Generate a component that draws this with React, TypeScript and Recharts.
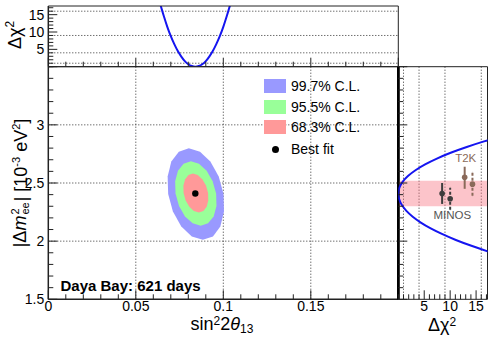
import React from "react";
import {
  ComposedChart,
  Scatter,
  Line,
  XAxis,
  YAxis,
  CartesianGrid,
  ReferenceArea,
  ErrorBar,
} from "recharts";

// Axis ticks
const s2tTicks = [0, 0.01, 0.02, 0.03, 0.04, 0.05, 0.06, 0.07, 0.08, 0.09, 0.1, 0.11, 0.12, 0.13, 0.14, 0.15, 0.16, 0.17, 0.18, 0.19, 0.2];
const s2tMajor = [0, 0.05, 0.1, 0.15, 0.2];
const s2tLabels = [0, 0.05, 0.1, 0.15];
const s2tGrid = [0.05, 0.1, 0.15];

const dmTicks = [1.5, 1.6, 1.7, 1.8, 1.9, 2, 2.1, 2.2, 2.3, 2.4, 2.5, 2.6, 2.7, 2.8, 2.9, 3, 3.1, 3.2, 3.3, 3.4, 3.5];
const dmMajor = [1.5, 2, 2.5, 3, 3.5];
const dmLabels = [1.5, 2, 2.5, 3];
const dmGrid = [2, 2.5, 3];

const chiTicks = [0, 1, 2, 3, 4, 5, 6, 7, 8, 9, 10, 11, 12, 13, 14, 15, 16, 17];
const chiMajor = [5, 10, 15];
const chiLabels = [5, 10, 15];
const chiGrid = [1, 4, 9, 16];

// Confidence regions (boundary points, sin^2 2theta13 vs |dm2_ee|)
const cl997 = [
  { s: 0.1001, dm: 2.405 }, { s: 0.0974, dm: 2.556 }, { s: 0.0926, dm: 2.684 }, { s: 0.0867, dm: 2.769 },
  { s: 0.0803, dm: 2.799 }, { s: 0.0746, dm: 2.769 }, { s: 0.0703, dm: 2.684 }, { s: 0.0682, dm: 2.556 },
  { s: 0.0685, dm: 2.405 }, { s: 0.0712, dm: 2.254 }, { s: 0.076, dm: 2.126 }, { s: 0.082, dm: 2.041 },
  { s: 0.0883, dm: 2.011 }, { s: 0.0941, dm: 2.041 }, { s: 0.0983, dm: 2.126 }, { s: 0.1004, dm: 2.254 },
];
const cl955 = [
  { s: 0.0959, dm: 2.409 }, { s: 0.0939, dm: 2.515 }, { s: 0.0905, dm: 2.605 }, { s: 0.0861, dm: 2.665 },
  { s: 0.0815, dm: 2.686 }, { s: 0.0773, dm: 2.665 }, { s: 0.0741, dm: 2.605 }, { s: 0.0725, dm: 2.515 },
  { s: 0.0727, dm: 2.409 }, { s: 0.0747, dm: 2.303 }, { s: 0.0781, dm: 2.213 }, { s: 0.0825, dm: 2.153 },
  { s: 0.0871, dm: 2.132 }, { s: 0.0913, dm: 2.153 }, { s: 0.0945, dm: 2.213 }, { s: 0.0961, dm: 2.303 },
];
const cl683 = [
  { s: 0.0913, dm: 2.414 }, { s: 0.0901, dm: 2.478 }, { s: 0.088, dm: 2.533 }, { s: 0.0854, dm: 2.569 },
  { s: 0.0826, dm: 2.582 }, { s: 0.0801, dm: 2.569 }, { s: 0.0782, dm: 2.533 }, { s: 0.0772, dm: 2.478 },
  { s: 0.0773, dm: 2.414 }, { s: 0.0785, dm: 2.35 }, { s: 0.0806, dm: 2.295 }, { s: 0.0832, dm: 2.259 },
  { s: 0.086, dm: 2.246 }, { s: 0.0886, dm: 2.259 }, { s: 0.0905, dm: 2.295 }, { s: 0.0914, dm: 2.35 },
];
const bestFit = [{ s: 0.084, dm: 2.41 }];

// Delta chi2 profile vs sin^2 2theta13 (top panel)
const topCurve = [
  { s: 0.064, chi: 18.0 }, { s: 0.066, chi: 14.6 }, { s: 0.068, chi: 11.5 }, { s: 0.07, chi: 8.8 },
  { s: 0.072, chi: 6.5 }, { s: 0.074, chi: 4.5 }, { s: 0.076, chi: 2.9 }, { s: 0.078, chi: 1.6 },
  { s: 0.08, chi: 0.7 }, { s: 0.082, chi: 0.2 }, { s: 0.084, chi: 0 }, { s: 0.086, chi: 0.2 },
  { s: 0.088, chi: 0.7 }, { s: 0.09, chi: 1.6 }, { s: 0.092, chi: 2.9 }, { s: 0.094, chi: 4.5 },
  { s: 0.096, chi: 6.5 }, { s: 0.098, chi: 8.8 }, { s: 0.1, chi: 11.5 }, { s: 0.102, chi: 14.6 },
  { s: 0.104, chi: 18.0 },
];

// Delta chi2 profile vs |dm2_ee| (right panel)
const rightCurve = [
  { dm: 1.89, chi: 18.8 }, { dm: 1.91, chi: 17.4 }, { dm: 1.96, chi: 14.1 }, { dm: 2.01, chi: 11.1 },
  { dm: 2.06, chi: 8.51 }, { dm: 2.11, chi: 6.25 }, { dm: 2.16, chi: 4.34 }, { dm: 2.21, chi: 2.78 },
  { dm: 2.26, chi: 1.56 }, { dm: 2.31, chi: 0.69 }, { dm: 2.36, chi: 0.17 }, { dm: 2.41, chi: 0 },
  { dm: 2.46, chi: 0.21 }, { dm: 2.51, chi: 0.83 }, { dm: 2.56, chi: 1.86 }, { dm: 2.61, chi: 3.31 },
  { dm: 2.66, chi: 5.17 }, { dm: 2.71, chi: 7.44 }, { dm: 2.76, chi: 10.1 }, { dm: 2.81, chi: 13.2 },
  { dm: 2.86, chi: 16.7 }, { dm: 2.88, chi: 18.3 },
];
const oneSigmaBand = [2.3, 2.52];

// other experiments (err = [lower, upper])
const minosSolid = [{ chi: 8.45, dm: 2.41, err: [0.09, 0.09] }];
const minosDashed = [{ chi: 10.0, dm: 2.365, err: [0.095, 0.095] }];
const t2kSolid = [{ chi: 12.8, dm: 2.55, err: [0.1, 0.09] }];
const t2kDashed = [{ chi: 14.3, dm: 2.49, err: [0.1, 0.1] }];

const legendRows = [
  { label: "99.7% C.L.", color: "#9999ff" },
  { label: "95.5% C.L.", color: "#99ff99" },
  { label: "68.3% C.L.", color: "#ff9999" },
];

const FONT = '"Liberation Sans", Arial, Helvetica, sans-serif';
const AXIS = "#222";
const CURVE = "#1515f0";
const MINOS = "#3d3d3d";
const T2K = "#8a6a5a";

type Side = "bottom" | "top" | "left" | "right";
const near = (list: number[], v: number) => list.some((m) => Math.abs(m - v) < 1e-6);

// ROOT-style ticks: drawn inward from the frame, labels outside
function makeTick(side: Side, major: number[], labels: number[], big: number, small: number) {
  return (props: any) => {
    const { x, y, payload } = props;
    const v = payload.value as number;
    const len = near(major, v) ? big : small;
    const seg =
      side === "bottom" ? [x, y, x, y - len]
      : side === "top" ? [x, y, x, y + len]
      : side === "left" ? [x, y, x + len, y]
      : [x, y, x - len, y];
    const show = near(labels, v);
    return (
      <g>
        <line x1={seg[0]} y1={seg[1]} x2={seg[2]} y2={seg[3]} stroke={AXIS} strokeWidth={1} />
        {show && side === "bottom" && (
          <text x={x} y={y + 12} textAnchor="middle" fontFamily={FONT} fontSize={14} fill="#000">
            {String(v)}
          </text>
        )}
        {show && side === "left" && (
          <text x={x - 4} y={y + 5} textAnchor="end" fontFamily={FONT} fontSize={14} fill="#000">
            {String(v)}
          </text>
        )}
      </g>
    );
  };
}

const hidden = () => <g />;
const dot = (color: string, r: number) => (p: any) => <circle cx={p.cx} cy={p.cy} r={r} fill={color} />;

const abs: React.CSSProperties = { position: "absolute", left: 0, top: 0 };
const W = 498;
const H = 338;

export default function App() {
  return (
    <div style={{ position: "absolute", left: 0, top: 0, width: W, height: H, fontFamily: FONT, background: "#fff" }}>
      {/* main panel: plot area 48.3..398.3 x 66.7..299.3 (axes take 1px each) */}
      <div style={abs}>
        <ComposedChart width={W} height={H} margin={{ top: 65.7, left: 47.3, right: 98.7, bottom: 37.7 }}>
          <CartesianGrid stroke="#333" strokeDasharray="1 2" horizontalValues={dmGrid} verticalValues={s2tGrid} />
          <XAxis dataKey="s" type="number" domain={[0, 0.2]} ticks={s2tTicks} interval={0} height={1}
            tickSize={0} tickMargin={0} axisLine={{ stroke: AXIS, strokeWidth: 1.5 }} tick={makeTick("bottom", s2tMajor, s2tLabels, 9, 5)} />
          <XAxis xAxisId="top" orientation="top" type="number" domain={[0, 0.2]} ticks={s2tTicks} interval={0} height={1}
            tickSize={0} tickMargin={0} axisLine={{ stroke: AXIS }} tick={makeTick("top", s2tMajor, [], 9, 5)} />
          <YAxis dataKey="dm" type="number" domain={[1.5, 3.5]} ticks={dmTicks} interval={0} width={1}
            tickSize={0} tickMargin={0} axisLine={{ stroke: AXIS, strokeWidth: 1.5 }} tick={makeTick("left", dmMajor, dmLabels, 9, 5)} />
          <YAxis yAxisId="right" orientation="right" type="number" domain={[1.5, 3.5]} ticks={dmTicks} interval={0} width={1}
            tickSize={0} tickMargin={0} axisLine={{ stroke: "#000", strokeWidth: 2.5 }} tick={makeTick("right", dmMajor, [], 9, 5)} />
          <Scatter data={cl997} fill="none" line={{ fill: legendRows[0].color, stroke: "none" }} lineType="joint"
            lineJointType="linearClosed" shape={hidden} legendType="none" isAnimationActive={false} />
          <Scatter data={cl955} fill="none" line={{ fill: legendRows[1].color, stroke: "none" }} lineType="joint"
            lineJointType="linearClosed" shape={hidden} legendType="none" isAnimationActive={false} />
          <Scatter data={cl683} fill="none" line={{ fill: legendRows[2].color, stroke: "none" }} lineType="joint"
            lineJointType="linearClosed" shape={hidden} legendType="none" isAnimationActive={false} />
          <Scatter data={bestFit} fill="#000" shape={dot("#000", 3.2)} legendType="none" isAnimationActive={false} />
        </ComposedChart>
      </div>

      {/* top panel: plot area 48.3..398.3 x 6..66.7 */}
      <div style={abs}>
        <ComposedChart width={W} height={H} data={topCurve} margin={{ top: 5, left: 47.3, right: 98.7, bottom: 270.3 }}>
          <CartesianGrid stroke="#333" strokeDasharray="1 2" horizontalValues={chiGrid} vertical={false} />
          <XAxis dataKey="s" type="number" domain={[0, 0.2]} ticks={s2tTicks} interval={0} height={1}
            tickSize={0} tickMargin={0} axisLine={{ stroke: AXIS }} tick={makeTick("bottom", s2tMajor, [], 9, 5)} />
          <XAxis xAxisId="top" orientation="top" type="number" domain={[0, 0.2]} height={1}
            axisLine={{ stroke: AXIS }} tick={false} tickLine={false} />
          <YAxis type="number" domain={[0, 17.5]} allowDataOverflow ticks={chiTicks} interval={0} width={1}
            tickSize={0} tickMargin={0} axisLine={{ stroke: AXIS, strokeWidth: 1.5 }} tick={makeTick("left", chiMajor, chiLabels, 9, 5)} />
          <YAxis yAxisId="right" orientation="right" type="number" domain={[0, 17.5]} ticks={chiTicks} interval={0} width={1}
            tickSize={0} tickMargin={0} axisLine={{ stroke: AXIS }} tick={makeTick("right", chiMajor, [], 9, 5)} />
          <Line dataKey="chi" type="monotone" stroke={CURVE} strokeWidth={2} dot={false} isAnimationActive={false} />
        </ComposedChart>
      </div>

      {/* right panel: plot area 398.3..487.5 x 66.7..299.3 */}
      <div style={abs}>
        <ComposedChart width={W} height={H} margin={{ top: 65.7, left: 397.3, right: 9.5, bottom: 37.7 }}>
          <CartesianGrid stroke="#333" strokeDasharray="1 2" verticalValues={chiGrid} horizontal={false} />
          <ReferenceArea y1={oneSigmaBand[0]} y2={oneSigmaBand[1]} fill="#f76b7a" fillOpacity={0.4} stroke="none" />
          <XAxis dataKey="chi" type="number" domain={[0, 17.2]} allowDataOverflow ticks={chiTicks} interval={0} height={1}
            tickSize={0} tickMargin={0} axisLine={{ stroke: AXIS }} tick={makeTick("bottom", chiMajor, chiLabels, 9, 5)} />
          <XAxis xAxisId="top" orientation="top" type="number" domain={[0, 17.2]} height={1}
            axisLine={{ stroke: AXIS }} tick={false} tickLine={false} />
          <YAxis dataKey="dm" type="number" domain={[1.5, 3.5]} ticks={dmTicks} interval={0} width={1}
            tickSize={0} tickMargin={0} axisLine={{ stroke: "#000", strokeWidth: 2.5 }} tick={makeTick("left", dmMajor, [], 9, 5)} />
          <YAxis yAxisId="right" orientation="right" type="number" domain={[1.5, 3.5]} width={1}
            axisLine={{ stroke: AXIS }} tick={false} tickLine={false} />
          <Scatter data={rightCurve} fill="none" line={{ stroke: CURVE, strokeWidth: 2 }} lineType="joint"
            lineJointType="natural" shape={hidden} legendType="none" isAnimationActive={false} />
          <Scatter data={minosSolid} fill={MINOS} shape={dot(MINOS, 2.8)} legendType="none" isAnimationActive={false}>
            <ErrorBar dataKey="err" direction="y" width={0} stroke={MINOS} strokeWidth={2} />
          </Scatter>
          <Scatter data={minosDashed} fill={MINOS} shape={dot(MINOS, 2.8)} legendType="none" isAnimationActive={false}>
            <ErrorBar dataKey="err" direction="y" width={0} stroke={MINOS} strokeWidth={2} strokeDasharray="3 2" />
          </Scatter>
          <Scatter data={t2kSolid} fill={T2K} shape={dot(T2K, 2.8)} legendType="none" isAnimationActive={false}>
            <ErrorBar dataKey="err" direction="y" width={0} stroke={T2K} strokeWidth={2} />
          </Scatter>
          <Scatter data={t2kDashed} fill={T2K} shape={dot(T2K, 2.8)} legendType="none" isAnimationActive={false}>
            <ErrorBar dataKey="err" direction="y" width={0} stroke={T2K} strokeWidth={2} strokeDasharray="3 2" />
          </Scatter>
        </ComposedChart>
      </div>

      {/* legend */}
      {legendRows.map((r, i) => (
        <div key={r.label} style={{ position: "absolute", left: 264, top: 79.3 + i * 20.4, height: 14, display: "flex", alignItems: "center" }}>
          <div style={{ width: 22, height: 14, background: r.color }} />
          <span style={{ marginLeft: 5, fontSize: 14, lineHeight: "14px", whiteSpace: "nowrap" }}>{r.label}</span>
        </div>
      ))}
      <div style={{ position: "absolute", left: 264, top: 142.3, height: 14, display: "flex", alignItems: "center" }}>
        <div style={{ width: 22, height: 14, display: "flex", alignItems: "center", justifyContent: "center" }}>
          <div style={{ width: 7, height: 7, borderRadius: "50%", background: "#000" }} />
        </div>
        <span style={{ marginLeft: 5, fontSize: 14, lineHeight: "14px" }}>Best fit</span>
      </div>

      {/* annotations */}
      <div style={{ position: "absolute", left: 60.5, top: 277, fontSize: 15, fontWeight: "bold", lineHeight: "18px", whiteSpace: "nowrap" }}>
        Daya Bay: 621 days
      </div>
      <div style={{ position: "absolute", left: 465.7, top: 159, transform: "translate(-50%,-50%)", fontSize: 11.5, color: T2K, lineHeight: 1 }}>
        T2K
      </div>
      <div style={{ position: "absolute", left: 452.3, top: 216, transform: "translate(-50%,-50%)", fontSize: 11.5, color: "#555", lineHeight: 1 }}>
        MINOS
      </div>

      {/* axis titles */}
      <div style={{ position: "absolute", left: 222, top: 324, transform: "translate(-50%,-50%)", fontSize: 18, whiteSpace: "nowrap", lineHeight: 1 }}>
        sin<sup style={{ fontSize: 12, verticalAlign: "0.4em", lineHeight: 0 }}>2</sup>2<i>θ</i>
        <sub style={{ fontSize: 12, verticalAlign: "-0.25em", lineHeight: 0 }}>13</sub>
      </div>
      <div style={{ position: "absolute", left: 442, top: 325, transform: "translate(-50%,-50%)", fontSize: 18, whiteSpace: "nowrap", lineHeight: 1 }}>
        Δχ<sup style={{ fontSize: 12, verticalAlign: "0.4em", lineHeight: 0 }}>2</sup>
      </div>
      <div style={{ position: "absolute", left: 14, top: 35, transform: "translate(-50%,-50%) rotate(-90deg)", fontSize: 18, whiteSpace: "nowrap", lineHeight: 1 }}>
        Δχ<sup style={{ fontSize: 12 }}>2</sup>
      </div>
      <div style={{ position: "absolute", left: 20, top: 183, transform: "translate(-50%,-50%) rotate(-90deg)", fontSize: 18, whiteSpace: "nowrap", lineHeight: 1, display: "flex", alignItems: "center" }}>
        <span>|Δ<i>m</i></span>
        <span style={{ display: "inline-flex", flexDirection: "column", fontSize: 11, lineHeight: "10px", margin: "0 1px" }}>
          <span>2</span>
          <span>ee</span>
        </span>
        <span style={{ whiteSpace: "pre" }}>| [10<sup style={{ fontSize: 11 }}>-3</sup> eV<sup style={{ fontSize: 11 }}>2</sup>]</span>
      </div>
    </div>
  );
}
